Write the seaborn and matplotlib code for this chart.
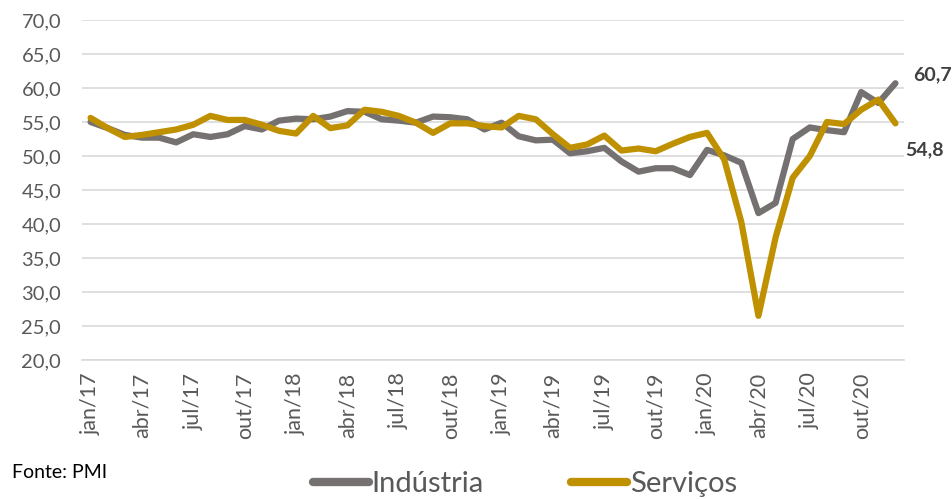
import numpy as np
import pandas as pd
import matplotlib
matplotlib.use("Agg")
import matplotlib.pyplot as plt
import seaborn as sns
from matplotlib.ticker import FixedLocator, FuncFormatter

months_pt = ["jan", "fev", "mar", "abr", "mai", "jun", "jul", "ago", "set", "out", "nov", "dez"]
years = ["17", "18", "19", "20"]
categories = [f"{m}/{y}" for y in years for m in months_pt]

industria = [55.0, 54.1, 53.1, 52.7, 52.7, 52.0, 53.2, 52.8, 53.2, 54.4, 53.9, 55.2,
             55.5, 55.4, 55.8, 56.6, 56.5, 55.4, 55.2, 54.9, 55.8, 55.7, 55.4, 53.9,
             54.9, 52.9, 52.3, 52.4, 50.4, 50.7, 51.2, 49.2, 47.7, 48.2, 48.2, 47.2,
             50.9, 50.1, 49.0, 41.6, 43.1, 52.5, 54.2, 53.8, 53.5, 59.4, 57.8, 60.7]
servicos = [55.6, 54.1, 52.8, 53.1, 53.5, 53.9, 54.6, 55.9, 55.3, 55.3, 54.6, 53.7,
            53.3, 55.9, 54.1, 54.5, 56.8, 56.5, 55.9, 54.9, 53.4, 54.8, 54.8, 54.4,
            54.2, 55.9, 55.4, 53.2, 51.2, 51.7, 53.0, 50.8, 51.1, 50.7, 51.8, 52.8,
            53.4, 49.5, 40.3, 26.5, 38.0, 46.8, 50.0, 55.0, 54.7, 56.8, 58.3, 54.8]
series_names = ["Indústria", "Serviços"]
colors = ["#767171", "#BF9000"]

df = pd.DataFrame({
    "idx": list(range(len(categories))) * 2,
    "valor": industria + servicos,
    "serie": [series_names[0]] * len(industria) + [series_names[1]] * len(servicos),
})

sns.set_theme(style="white")
plt.rcParams["font.family"] = ["Lato", "DejaVu Sans"]

fig = plt.figure(figsize=(9.53, 4.99), dpi=100)
ax = fig.add_axes([82 / 953, 1 - 360 / 499, (904 - 82) / 953, 340 / 499])

sns.lineplot(data=df, x="idx", y="valor", hue="serie", palette=colors,
             linewidth=4.5, ax=ax, legend=True, solid_capstyle="round")

ax.set_xlim(-0.5, len(categories) - 0.5)
ax.set_ylim(20, 70)
ax.set_yticks(np.arange(20, 71, 5))
ax.yaxis.set_major_formatter(FuncFormatter(lambda v, p: f"{v:.1f}".replace(".", ",")))
ax.grid(axis="y", color="#d9d9d9", linewidth=1.2)
ax.grid(axis="x", visible=False)
ax.set_axisbelow(True)

pos = list(range(0, len(categories), 3))
ax.set_xticks(pos)
ax.set_xticklabels([categories[i] for i in pos], rotation=90)
ax.xaxis.set_minor_locator(FixedLocator(np.arange(-0.5, len(categories), 3)))
ax.tick_params(axis="x", which="major", length=0, pad=9, labelsize=15.5, labelcolor="#595959")
ax.tick_params(axis="x", which="minor", length=6, width=1.2, color="#d9d9d9", direction="out")
ax.tick_params(axis="y", length=0, pad=15, labelsize=14.5, labelcolor="#595959")
ax.set_xlabel("")
ax.set_ylabel("")

for s in ["top", "right", "left"]:
    ax.spines[s].set_visible(False)
ax.spines["bottom"].set_color("#d9d9d9")
ax.spines["bottom"].set_linewidth(1.2)

last = len(categories) - 1
ax.annotate(f"{industria[-1]:.1f}".replace(".", ","), xy=(last, industria[-1]),
            xytext=(13, 6), textcoords="offset points", fontsize=14,
            fontweight="bold", color="#404040", va="center", ha="left")
ax.annotate(f"{servicos[-1]:.1f}".replace(".", ","), xy=(last, servicos[-1]),
            xytext=(7, -19), textcoords="offset points", fontsize=14,
            fontweight="bold", color="#404040", va="center", ha="left")

handles, labels = ax.get_legend_handles_labels()
ax.get_legend().remove()
leg = fig.legend(handles, labels, loc="center", bbox_to_anchor=(0.551, 1 - 484 / 499),
                 ncol=2, frameon=False, fontsize=21, handlelength=1.9,
                 handletextpad=0.1, columnspacing=3.0, labelcolor="#595959")
for h in leg.legend_handles:
    h.set_linewidth(6)
    h.set_solid_capstyle("round")

fig.text(12 / 953, 1 - 472 / 499, "Fonte: PMI", fontsize=14, color="black",
         ha="left", va="center")

fig.savefig("out.png", dpi=100)
